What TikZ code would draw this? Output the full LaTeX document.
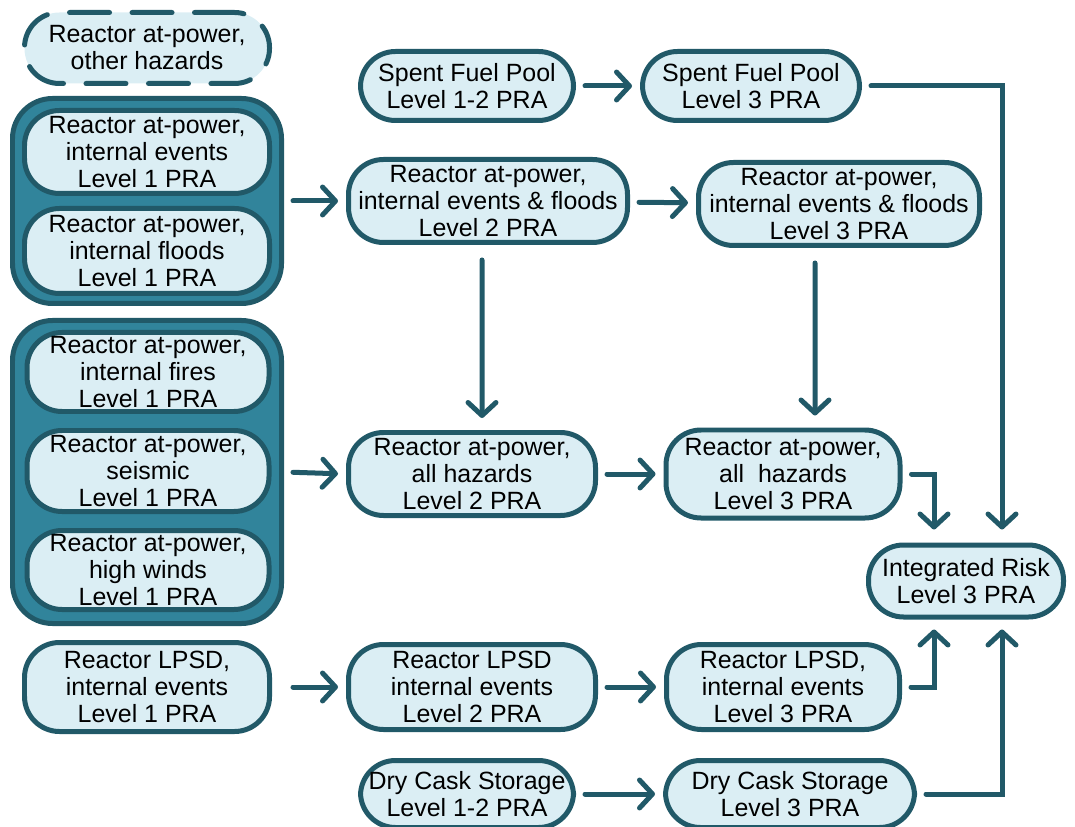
\documentclass[tikz,border=0pt]{standalone}
\usepackage{fontspec}
\setmainfont{Liberation Sans}
\usepackage{tikz}
\usetikzlibrary{arrows.meta}
\definecolor{praline}{RGB}{33,89,104}
\definecolor{prafill}{RGB}{219,238,244}
\definecolor{grpfill}{RGB}{49,132,155}
\newcommand{\prafont}{\fontsize{14.2}{15.4}\selectfont}
\newcommand{\prabox}[6]{\node[pra, minimum width=#4*0.02cm, minimum height=#5*0.02cm] (#1) at ( #2 , #3 ) {#6};}
\newcommand{\grpbox}[5]{\node[grp, minimum width=#4*0.02cm, minimum height=#5*0.02cm] (#1) at ( #2 , #3 ) {};}
\tikzset{
  pra/.style={draw=praline, fill=prafill, line width=0.1cm, rounded corners=0.7cm,
    align=center, inner sep=0pt, font=\prafont},
  grp/.style={draw=praline, fill=grpfill, line width=0.1cm, rounded corners=0.8cm},
  other/.style={pra, dash pattern=on 0.8cm off 0.45cm, line cap=round},
  flow/.style={draw=praline, line width=0.1cm, line cap=round,
    -{Straight Barb[length=0.26cm,width=0.56cm,round]},
    shorten <=0.18cm, shorten >=0.16cm},
}

\begin{document}
\begin{tikzpicture}[x=0.02cm, y=-0.02cm]
\useasboundingbox (0,0) rectangle (1075,827);
% column 1
\node[other, minimum width=245*0.02cm, minimum height=71*0.02cm] (oth) at (147,48) {Reactor at-power,\\other hazards};
\grpbox{g1}{147}{201}{269}{205}
\prabox{ie1}{147}{152}{245}{83}{Reactor at-power,\\internal events\\Level 1 PRA}
\prabox{if1}{147}{251}{245}{85}{Reactor at-power,\\internal floods\\Level 1 PRA}
\grpbox{g2}{147}{472}{269}{303}
\prabox{fi1}{148}{372}{242}{79}{Reactor at-power,\\internal fires\\Level 1 PRA}
\prabox{se1}{148}{471}{242}{81}{Reactor at-power,\\seismic\\Level 1 PRA}
\prabox{hw1}{148}{570}{242}{79}{Reactor at-power,\\high winds\\Level 1 PRA}
\prabox{lp1}{147}{687}{245}{89}{Reactor LPSD,\\internal events\\Level 1 PRA}
% column 2
\prabox{sfp12}{467}{86}{213}{69}{Spent Fuel Pool\\Level 1-2 PRA}
\prabox{ief2}{488}{201}{279}{83}{Reactor at-power,\\internal events \& floods\\Level 2 PRA}
\prabox{ah2}{472}{474}{247}{83}{Reactor at-power,\\all hazards\\Level 2 PRA}
\prabox{lp2}{472}{687}{247}{85}{Reactor LPSD\\internal events\\Level 2 PRA}
\prabox{dc12}{467}{794}{213}{67}{Dry Cask Storage\\Level 1-2 PRA}
% column 3
\prabox{sfp3}{751}{86}{217}{69}{Spent Fuel Pool\\Level 3 PRA}
\prabox{ief3}{839}{204}{281}{83}{Reactor at-power,\\internal events \& floods\\Level 3 PRA}
\prabox{ah3}{783}{474}{234}{88}{Reactor at-power,\\all\ \ hazards\\Level 3 PRA}
\prabox{lp3}{783}{687}{233}{85}{Reactor LPSD,\\internal events\\Level 3 PRA}
\prabox{dc3}{790}{794}{249}{67}{Dry Cask Storage\\Level 3 PRA}
% integrated
\prabox{ir}{966}{581}{195}{72}{Integrated Risk\\Level 3 PRA}
% arrows across
\draw[flow] (sfp12) -- (sfp3);
\draw[flow] (g1.east) -- (ief2.west);
\draw[flow] (ief2) -- (ief3);
\draw[flow] (g2.east) -- (ah2.west);
\draw[flow] (ah2) -- (ah3);
\draw[flow, shorten <=0.42cm] (lp1) -- (lp2);
\draw[flow] (lp2) -- (lp3);
\draw[flow] (dc12) -- (dc3);
% arrows down
\draw[flow, shorten <=0.3cm, shorten >=0.24cm] ([xshift=-0.12cm]ief2.south) -- ([xshift=0.2cm]ah2.north);
\draw[flow, shorten <=0.3cm, shorten >=0.24cm] ([xshift=-0.48cm]ief3.south) -- ([xshift=0.64cm]ah3.north);
% into integrated risk
\draw[flow, shorten >=0.26cm] (sfp3.east) -| ([xshift=0.72cm]ir.north);
\draw[flow, shorten >=0.26cm] (ah3.east) -| ([xshift=-0.64cm]ir.north);
\draw[flow, shorten >=0.2cm] (lp3.east) -| ([xshift=-0.64cm]ir.south);
\draw[flow, shorten >=0.2cm] (dc3.east) -| ([xshift=0.72cm]ir.south);
\end{tikzpicture}
\end{document}
